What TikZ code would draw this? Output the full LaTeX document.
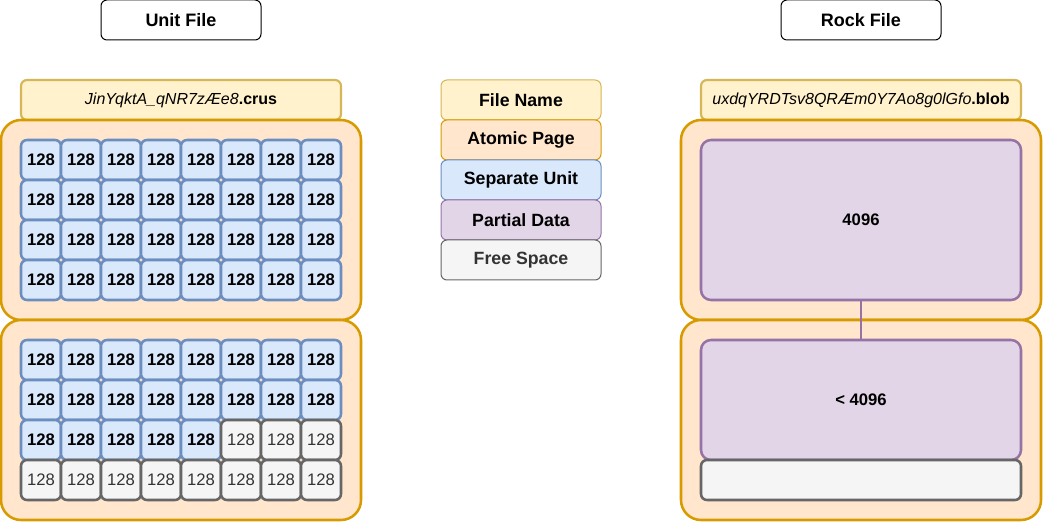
\documentclass[tikz,border=0pt]{standalone}
\usepackage{fontspec}
\setmainfont{Liberation Sans}
\definecolor{namefill}{HTML}{FFF2CC}
\definecolor{nameline}{HTML}{D6B656}
\definecolor{pagefill}{HTML}{FFE6CC}
\definecolor{pageline}{HTML}{D79B00}
\definecolor{unitfill}{HTML}{DAE8FC}
\definecolor{unitline}{HTML}{6C8EBF}
\definecolor{partfill}{HTML}{E1D5E7}
\definecolor{partline}{HTML}{9673A6}
\definecolor{freefill}{HTML}{F5F5F5}
\definecolor{freeline}{HTML}{666666}
\definecolor{freetext}{HTML}{333333}
\usetikzlibrary{positioning}

\begin{document}
\begin{tikzpicture}[x=0.75pt,y=-0.75pt,
  title/.style={draw,rounded corners=4.5pt,line width=0.75pt,minimum width=120pt,
    minimum height=30pt,font=\fontsize{13.5}{15}\selectfont\bfseries},
  fname/.style={draw=nameline,fill=namefill,rounded corners=4.5pt,line width=1.6pt,
    minimum width=240pt,minimum height=30pt,font=\fontsize{12}{14}\selectfont},
  page/.style={draw=pageline,fill=pagefill,rounded corners=15pt,line width=1.9pt,
    minimum width=270pt,minimum height=150pt},
  cell/.style={rounded corners=4.5pt,line width=1.9pt,minimum width=30pt,
    minimum height=30pt,inner sep=0pt,font=\fontsize{12.5}{14}\selectfont},
  unit/.style={cell,draw=unitline,fill=unitfill,font=\fontsize{12.5}{14}\selectfont\bfseries},
  freecell/.style={cell,draw=freeline,fill=freefill,text=freetext},
  part/.style={draw=partline,fill=partfill,rounded corners=7.5pt,line width=1.9pt,
    minimum width=240pt,font=\fontsize{12.5}{14}\selectfont\bfseries},
  legend/.style={rounded corners=4.5pt,line width=0.75pt,minimum width=120pt,
    minimum height=30pt,font=\fontsize{13.3}{15}\selectfont\bfseries}
]
  \useasboundingbox (0,0) rectangle (1043,523);

  % Titles
  \node[title] (unitfile) at (181,20) {Unit File};
  \node[title] (rockfile) at (861,20) {Rock File};

  % Unit File
  \node[fname] (uname) at (181,100) {\itshape JinYqktA\_qNR7zÆe8\upshape\bfseries.crus};
  \node[page] (upage1) at (181,220) {};
  \node[page] (upage2) at (181,420) {};
  \foreach \r in {0,...,3}
    \foreach \c in {0,...,7}
      \node[unit] (ua-\r-\c) at ({41+40*\c},{160+40*\r}) {128};
  \foreach \r in {0,...,3}
    \foreach \c in {0,...,7}{
      \ifnum\numexpr8*\r+\c\relax<21 \def\kind{unit}\else\def\kind{freecell}\fi
      \node[\kind] (ub-\r-\c) at ({41+40*\c},{360+40*\r}) {128};
    }

  % Legend
  \node[legend,draw=nameline,fill=namefill] (lgname) at (521,100) {File Name};
  \node[legend,draw=pageline,fill=pagefill] (lgpage) at (521,140) {Atomic Page};
  \node[legend,draw=unitline,fill=unitfill] (lgunit) at (521,180) {Separate Unit};
  \node[legend,draw=partline,fill=partfill] (lgpart) at (521,220) {Partial Data};
  \node[legend,draw=freeline,fill=freefill,text=freetext] (lgfree) at (521,260) {Free Space};

  % Rock File
  \node[fname] (rname) at (861,100) {\itshape uxdqYRDTsv8QRÆm0Y7Ao8g0lGfo\upshape\bfseries.blob};
  \node[page] (rpage1) at (861,220) {};
  \node[page] (rpage2) at (861,420) {};
  \node[part,minimum height=120pt] (full) at (861,220) {4096};
  \node[part,minimum height=90pt] (rest) at (861,400) {< 4096};
  \node[cell,draw=freeline,fill=freefill,minimum width=240pt] (tail) at (861,480) {};
  \draw[partline,line width=1.9pt] (full.south) -- (rest.north);
\end{tikzpicture}
\end{document}
